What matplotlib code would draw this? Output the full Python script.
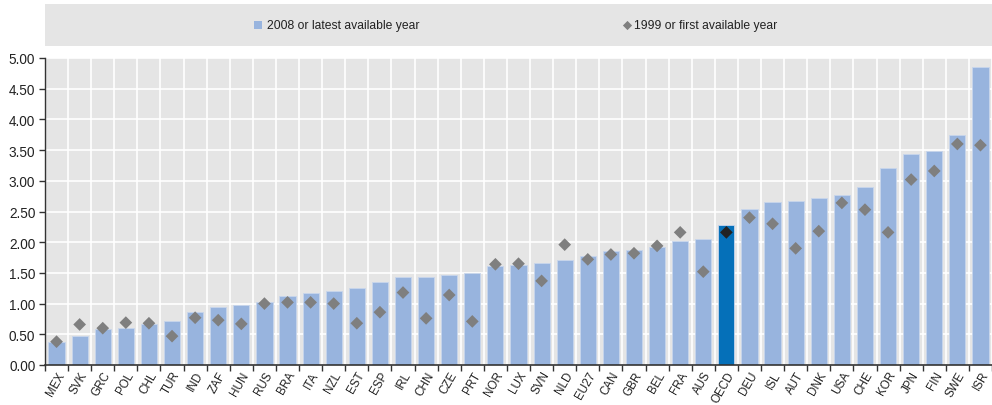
import matplotlib
matplotlib.use("Agg")
import matplotlib.pyplot as plt
import numpy as np

countries = ["MEX", "SVK", "GRC", "POL", "CHL", "TUR", "IND", "ZAF", "HUN", "RUS",
             "BRA", "ITA", "NZL", "EST", "ESP", "IRL", "CHN", "CZE", "PRT", "NOR",
             "LUX", "SVN", "NLD", "EU27", "CAN", "GBR", "BEL", "FRA", "AUS", "OECD",
             "DEU", "ISL", "AUT", "DNK", "USA", "CHE", "KOR", "JPN", "FIN", "SWE", "ISR"]
latest_2008 = [0.38, 0.47, 0.58, 0.60, 0.67, 0.72, 0.87, 0.94, 0.97, 1.03,
               1.12, 1.18, 1.20, 1.26, 1.35, 1.43, 1.44, 1.46, 1.50, 1.62,
               1.63, 1.66, 1.71, 1.78, 1.86, 1.88, 1.92, 2.02, 2.06, 2.28,
               2.54, 2.66, 2.67, 2.72, 2.77, 2.90, 3.21, 3.44, 3.49, 3.75, 4.86]
first_1999 = [0.38, 0.66, 0.60, 0.69, 0.68, 0.47, 0.77, 0.73, 0.67, 1.00,
              1.02, 1.02, 1.00, 0.68, 0.86, 1.18, 0.76, 1.14, 0.71, 1.64,
              1.65, 1.37, 1.96, 1.72, 1.80, 1.82, 1.94, 2.16, 1.52, 2.16,
              2.40, 2.30, 1.90, 2.18, 2.64, 2.53, 2.16, 3.02, 3.16, 3.60, 3.58]
yticks = [0.0, 0.5, 1.0, 1.5, 2.0, 2.5, 3.0, 3.5, 4.0, 4.5, 5.0]
legend_labels = ["2008 or latest available year", "1999 or first available year"]

plt.rcParams['font.family'] = ['Liberation Sans', 'DejaVu Sans']

W, H = 992, 406
fig = plt.figure(figsize=(W / 100, H / 100), dpi=100)
ax = fig.add_axes([45 / W, 1 - 366 / H, (992 - 45) / W, (366 - 59) / H])

bar_color = "#98b4de"
hl_color = "#0570b9"
dia_color = "#7f7f7f"
hl_dia = "#222222"

x = np.arange(len(countries))
colors = [hl_color if c == "OECD" else bar_color for c in countries]
ax.bar(x, latest_2008, width=0.7, color=colors, edgecolor="#c8d6ec", linewidth=0.6, zorder=2)
dcolors = [hl_dia if c == "OECD" else dia_color for c in countries]
ax.scatter(x, first_1999, marker="D", s=42, c=dcolors, zorder=3, linewidths=0)

ax.set_facecolor("#e5e5e5")
ax.set_xlim(-0.5, len(countries) - 0.5)
ax.set_ylim(0, 5.0)
ax.set_yticks(yticks)
ax.set_yticklabels([f"{v:.2f}" for v in yticks], fontsize=9.8, color="#222222")
ax.set_xticks(x)
ax.set_xticklabels(countries, rotation=60, ha="right", va="top", rotation_mode="anchor",
                   fontsize=8.4, color="#222222")
ax.tick_params(axis="x", length=0, pad=3)
ax.tick_params(axis="y", length=4, direction="out", color="#333333", width=1, pad=3)
ax.set_xticks(np.arange(-0.5, len(countries)), minor=True)
ax.tick_params(axis="x", which="minor", length=4, direction="out", color="#333333", width=1)
ax.grid(True, which="minor", axis="x", color="white", linewidth=1.2, zorder=1)
ax.grid(True, which="major", axis="y", color="white", linewidth=1.2, zorder=1)
ax.set_axisbelow(True)
for s in ["top", "right"]:
    ax.spines[s].set_visible(False)
ax.spines["left"].set_color("#333333")
ax.spines["bottom"].set_color("#333333")
ax.spines["left"].set_linewidth(1)
ax.spines["bottom"].set_linewidth(1.2)

# legend box
lax = fig.add_axes([45 / W, 1 - 47 / H, (992 - 45) / W, (47 - 5) / H])
lax.set_facecolor("#e5e5e5")
lax.set_xlim(45, 992)
lax.set_ylim(0, 1)
lax.set_xticks([])
lax.set_yticks([])
for s in lax.spines.values():
    s.set_visible(False)
lax.scatter([258], [0.5], marker="s", s=40, color=bar_color, linewidths=0)
lax.text(267, 0.5, legend_labels[0], va="center", ha="left", fontsize=8.7, color="#222222")
lax.scatter([627], [0.5], marker="D", s=22, color=dia_color, linewidths=0)
lax.text(634, 0.5, legend_labels[1], va="center", ha="left", fontsize=8.7, color="#222222")

fig.savefig("out.png", dpi=100)
